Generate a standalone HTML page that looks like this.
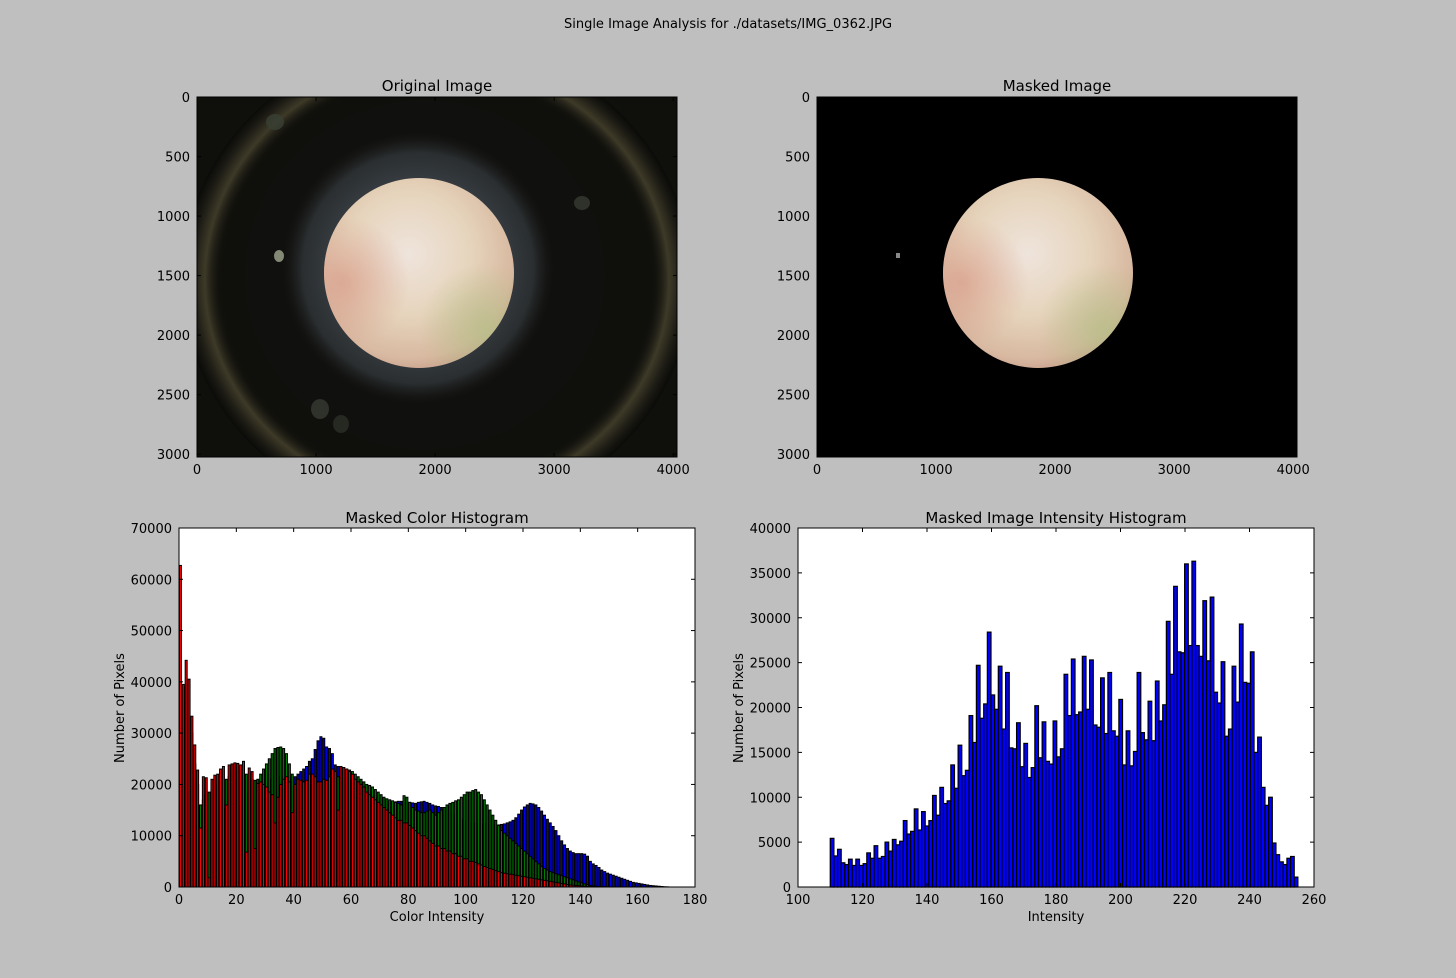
<!DOCTYPE html>
<html><head><meta charset="utf-8"><style>
html,body{margin:0;padding:0;background:#bfbfbf;}
svg{display:block;font-family:"DejaVu Sans","Liberation Sans",sans-serif;}
</style></head><body>
<svg id="fig" width="1456" height="978" viewBox="0 0 1456 978" xmlns="http://www.w3.org/2000/svg">
<defs>
<radialGradient id="diskG" cx="0.45" cy="0.4" r="0.65">
<stop offset="0" stop-color="#efe4dc"/><stop offset="0.5" stop-color="#e6d4bc"/><stop offset="0.85" stop-color="#d8b8a0"/><stop offset="1" stop-color="#c49a88"/>
</radialGradient>
<radialGradient id="greenTint" cx="0.85" cy="0.8" r="0.35">
<stop offset="0" stop-color="#b8c08a" stop-opacity="0.85"/><stop offset="1" stop-color="#b8c08a" stop-opacity="0"/>
</radialGradient>
<radialGradient id="pinkTint" cx="0.1" cy="0.55" r="0.35">
<stop offset="0" stop-color="#d89a88" stop-opacity="0.7"/><stop offset="1" stop-color="#d89a88" stop-opacity="0"/>
</radialGradient>
<radialGradient id="greyG" cx="0.5" cy="0.5" r="0.5">
<stop offset="0.55" stop-color="#3c4248"/><stop offset="0.85" stop-color="#2a2e30"/><stop offset="1" stop-color="#1a1a18" stop-opacity="0"/>
</radialGradient>
<radialGradient id="ringG" cx="0.5" cy="0.5" r="0.5">
<stop offset="0.84" stop-color="#12120e" stop-opacity="0"/><stop offset="0.91" stop-color="#3e3a28"/><stop offset="0.96" stop-color="#1c1b14"/><stop offset="1" stop-color="#0a0a08"/>
</radialGradient>
<clipPath id="clipOrig"><rect x="197" y="97" width="480" height="360"/></clipPath>
<clipPath id="clipCH"><rect x="179" y="528" width="516" height="359"/></clipPath>
</defs>

<text x="728" y="28" font-size="13" text-anchor="middle">Single Image Analysis for ./datasets/IMG_0362.JPG</text>

<g>
<text x="437" y="91" font-size="15" text-anchor="middle">Original Image</text>
<g clip-path="url(#clipOrig)">
<rect x="197" y="97" width="480" height="360" fill="#0f0f0b"/>
<ellipse cx="437" cy="280" rx="255" ry="240" fill="url(#ringG)"/>
<ellipse cx="425" cy="275" rx="180" ry="175" fill="#111110" opacity="0.7"/>
<ellipse cx="418" cy="268" rx="136" ry="136" fill="url(#greyG)"/>
<circle cx="419" cy="273" r="95" fill="url(#diskG)"/>
<circle cx="419" cy="273" r="95" fill="url(#greenTint)"/>
<circle cx="419" cy="273" r="95" fill="url(#pinkTint)"/>
<ellipse cx="279" cy="256" rx="5" ry="6" fill="#a0a890" opacity="0.8"/>
<ellipse cx="275" cy="122" rx="9" ry="8" fill="#3a4034" opacity="0.8"/>
<ellipse cx="582" cy="203" rx="8" ry="7" fill="#2e322a"/>
<ellipse cx="320" cy="409" rx="9" ry="10" fill="#2e322a"/>
<ellipse cx="341" cy="424" rx="8" ry="9" fill="#262822"/>
</g>
<rect x="197" y="97" width="480" height="360" fill="none" stroke="#000"/>
<g id="origTicks"></g>
</g>

<g>
<text x="1057" y="91" font-size="15" text-anchor="middle">Masked Image</text>
<rect x="817" y="97" width="480" height="360" fill="#000"/>
<circle cx="1038" cy="273" r="95" fill="url(#diskG)"/>
<circle cx="1038" cy="273" r="95" fill="url(#greenTint)"/>
<circle cx="1038" cy="273" r="95" fill="url(#pinkTint)"/>
<rect x="896" y="253" width="4" height="5" fill="#888"/>
<rect x="817" y="97" width="480" height="360" fill="none" stroke="#000"/>
<g id="maskTicks"></g>
</g>

<g>
<text x="437" y="523" font-size="15" text-anchor="middle">Masked Color Histogram</text>
<rect x="179" y="528" width="516" height="359" fill="#fff"/>
<g id="chBars" clip-path="url(#clipCH)"></g>
<rect x="179" y="528" width="516" height="359" fill="none" stroke="#000"/>
<g id="chAxes"></g>
<text x="437" y="921" font-size="13" text-anchor="middle">Color Intensity</text>
<text x="124" y="708" font-size="13" text-anchor="middle" transform="rotate(-90 124 708)">Number of Pixels</text>
</g>

<g>
<text x="1056" y="523" font-size="15" text-anchor="middle">Masked Image Intensity Histogram</text>
<rect x="798" y="528" width="516" height="359" fill="#fff"/>
<g id="ihBars"></g>
<rect x="798" y="528" width="516" height="359" fill="none" stroke="#000"/>
<g id="ihAxes"></g>
<text x="1056" y="921" font-size="13" text-anchor="middle">Intensity</text>
<text x="743" y="708" font-size="13" text-anchor="middle" transform="rotate(-90 743 708)">Number of Pixels</text>
</g>
</svg>
<script>
const intensityMin = 110;
const intensityMax = 255;
const intensityCounts = [5420,3460,4200,2700,2500,3100,2400,3100,2400,2600,3800,3200,4600,3200,3400,5000,4000,5300,4700,5100,7400,5900,6200,8700,6350,8400,6800,7400,10200,8000,11100,9300,9600,13600,11000,15800,12400,13000,19100,16100,24700,18800,20400,28400,21400,19800,24600,17600,23900,15500,15400,18300,13400,16000,12200,13300,20200,14400,18400,14000,13700,18500,14500,15400,23700,19100,25400,19200,19500,25700,19800,25300,18050,17800,23300,17100,23900,17400,16800,20900,13600,17400,13500,15100,23900,17200,16400,20700,16300,22950,18500,20300,29600,23700,33500,26200,26100,36000,26900,36300,26900,25700,31900,25200,32300,21700,20500,25100,16800,17600,24600,20600,29300,22800,22700,26200,15000,16700,11100,9100,10000,4900,3600,2800,2500,3200,3400,1100];
const ihXTicks = [100,120,140,160,180,200,220,240,260];
const ihYTicks = [0,5000,10000,15000,20000,25000,30000,35000,40000];

const chXTicks = [0,20,40,60,80,100,120,140,160,180];
const chYTicks = [0,10000,20000,30000,40000,50000,60000,70000];
const redCounts = [62700,39500,44200,40500,33300,27700,22800,11500,21500,21300,1800,21000,21800,22000,23000,23500,16000,23800,24000,24200,24100,23800,24500,6800,23200,22500,7500,20200,20500,20000,19500,18500,18000,12500,17500,20000,21000,21500,20500,14500,20000,21000,20800,20500,20800,22000,22000,21500,20500,20500,21000,20800,21500,23000,22500,15000,23500,23300,23000,22500,22000,21000,20500,20000,19500,18500,18000,17500,17000,16500,16000,15500,15000,14500,14000,13500,13000,13000,12500,12500,12000,11500,11000,10500,10000,10000,9500,9000,8500,8000,8000,7500,7500,7000,7000,6500,6500,6000,6000,5500,5500,5000,5000,4800,4500,4300,4000,3800,3600,3400,3200,3000,2800,2700,2600,2500,2400,2300,2200,2100,2000,1900,1800,1700,1600,1500,1400,1300,1200,1100,1000,900,800,700,600,500,400,350,300,250,200,150,120,100,80,60,50,40,30,20,10,0,0,0,0,0,0,0,0,0,0,0,0,0,0,0,0,0,0,0,0];
const greenCounts = [30000,39000,36000,40500,30000,24000,20000,16000,17000,18000,18500,19000,19500,20000,20500,15300,21000,21500,22000,22500,23000,23000,22500,22000,21500,21000,20800,21000,22000,23000,24000,25000,26000,27000,27200,27300,27000,26000,24000,22000,20000,19000,18000,17500,20000,20500,20300,20000,19800,19500,19500,19800,20000,20500,21000,21500,22000,22500,23000,22800,22500,22000,21500,21000,20500,20000,19800,19500,19000,18500,18000,17500,17200,17000,16800,16500,16300,16000,17800,17500,16500,15500,15000,14800,14500,14500,14800,15000,14500,14000,14500,15000,15500,16000,16300,16500,16800,17000,17500,18000,18500,18500,18800,19000,18500,18000,17000,16000,15000,14000,13000,12000,11000,10500,10000,9500,9000,8500,8000,7500,7000,6500,6000,5500,5000,4500,4000,3600,3300,3000,2800,2600,2400,2200,2000,1800,1600,1400,1200,1000,800,600,450,300,200,120,80,50,30,20,10,0,0,0,0,0,0,0,0,0,0,0,0,0,0,0,0,0,0,0,0];
const blueCounts = [5000,10000,12000,14000,16000,16000,15000,14000,13000,12000,11000,11000,11500,12000,13000,14000,14500,15000,15500,16000,16500,17000,17500,18000,18500,19000,19500,20000,20000,20500,20500,21000,21000,21500,21500,21500,21000,21000,21000,21500,21500,22000,22500,23000,23500,24500,25000,26800,28500,29300,29000,27300,27000,26000,23800,23500,23000,22000,21000,20500,20000,19500,19000,18800,18500,18300,18000,17800,17500,17300,17000,16800,16500,16300,16500,16600,16700,16700,16600,16600,16500,16400,16300,16500,16600,16700,16500,16300,16000,15800,15700,15500,15200,15000,14600,14200,13800,13500,13200,13000,12800,12600,12400,12300,12200,12200,12300,12400,12300,12200,12000,12100,12200,12300,12500,12700,13000,13500,14200,15000,15600,16000,16300,16200,16000,15500,14800,14000,13200,12500,11800,11000,10000,9000,8200,7500,7000,6700,6500,6500,6500,6400,6000,5000,4500,4200,3800,3300,3000,2700,2500,2300,2100,1900,1700,1500,1300,1100,900,800,700,600,500,400,300,250,200,150,100,50,30];

const NS = "http://www.w3.org/2000/svg";
function mk(tag, attrs, parent){const e=document.createElementNS(NS,tag);for(const k in attrs)e.setAttribute(k,attrs[k]);parent.appendChild(e);return e;}

function chX(v){return 179 + (v-0)/(180-0)*516;}
function chY(v){return 887 - v/70000*359;}
function ihX(v){return 798 + (v-100)/(260-100)*516;}
function ihY(v){return 887 - v/40000*359;}

function drawTicks(g, x0,y0,w,h, xt, yt, xs, ys){
  xt.forEach(t=>{const x=xs(t);
    const a=mk('line',{x1:x,x2:x,y1:y0+h,y2:y0+h-4,stroke:'#000'},g);
    
    
    mk('line',{x1:x,x2:x,y1:y0,y2:y0+4,stroke:'#000'},g);
    const tx=mk('text',{x:x,y:y0+h+17,'font-size':13,'text-anchor':'middle'},g);
    
    
    tx.textContent=t;});
  yt.forEach(t=>{const y=ys(t);
    const a=mk('line',{x1:x0,x2:x0+4,y1:y,y2:y,stroke:'#000'},g);
    
    
    mk('line',{x1:x0+w,x2:x0+w-4,y1:y,y2:y,stroke:'#000'},g);
    const tx=mk('text',{x:x0-7,y:y+5,'font-size':13,'text-anchor':'end'},g);
    
    
    tx.textContent=t;});
}

const imgXTicks=[0,1000,2000,3000,4000];
const imgYTicks=[0,500,1000,1500,2000,2500,3000];
[[197,'origTicks'],[817,'maskTicks']].forEach(([x0,id])=>{
  const g=document.getElementById(id);
  drawTicks(g,x0,97,480,360,imgXTicks,imgYTicks,v=>x0+v/4032*480,v=>97+v/3024*360);
});

const chG=document.getElementById('chBars');
[[blueCounts,'#0000ff','blue'],[greenCounts,'#008000','green'],[redCounts,'#ff0000','red']].forEach(([arr,col,nm])=>{
  arr.forEach((v,i)=>{ if(v<=0) return;
    const x=chX(i+0.15), w=chX(i+0.85)-x;
    const r=mk('rect',{x:x,y:chY(v),width:w,height:chY(0)-chY(v),fill:col,stroke:'#000','stroke-width':1},chG);
    
    
  });
});
drawTicks(document.getElementById('chAxes'),179,528,516,359,chXTicks,chYTicks,chX,chY);

const ihG=document.getElementById('ihBars');
const binW=(intensityMax-intensityMin)/intensityCounts.length;
intensityCounts.forEach((v,i)=>{
  const x=ihX(intensityMin+i*binW), w=ihX(intensityMin+(i+1)*binW)-x;
  const r=mk('rect',{x:x,y:ihY(v),width:w,height:ihY(0)-ihY(v),fill:'#0000ff',stroke:'#000','stroke-width':1.2},ihG);
  
  
});
drawTicks(document.getElementById('ihAxes'),798,528,516,359,ihXTicks,ihYTicks,ihX,ihY);
</script>
</body></html>
